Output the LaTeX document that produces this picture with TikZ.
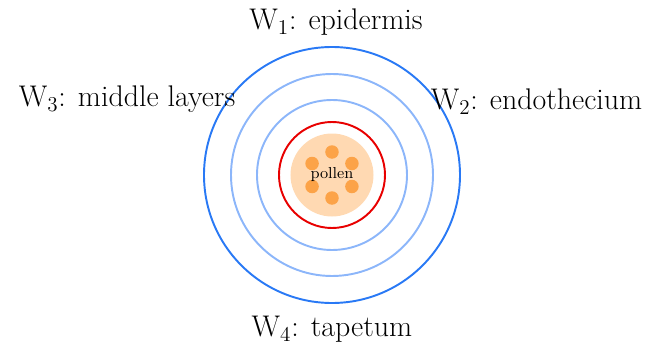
\documentclass[tikz,border=0pt]{standalone}
\usepackage{tikz}
\definecolor{WallBlue}{RGB}{41,121,245}
\definecolor{LayerBlue}{RGB}{140,182,250}
\definecolor{TapRed}{RGB}{232,0,0}
\definecolor{PollenFill}{RGB}{255,217,178}
\definecolor{GrainOrange}{RGB}{252,163,72}

\begin{document}
\begin{tikzpicture}[
	layer/.style={circle,draw,line width=1.1pt,inner sep=0pt},
	grain/.style={circle,fill=GrainOrange,minimum size=2.7mm,inner sep=0pt},
	lbl/.style={font=\fontsize{17}{20}\selectfont,anchor=base}]
\useasboundingbox (-6.64,-3.4) rectangle (6.38,3.5);
% wall layers, outside in
\node[layer,draw=WallBlue,minimum size=5.12cm] (W1) at (0,0) {};
\node[layer,draw=LayerBlue,minimum size=4.04cm] (W2) at (0,0) {};
\node[layer,draw=LayerBlue,minimum size=3cm] (W3) at (0,0) {};
\node[layer,draw=TapRed,minimum size=2.12cm] (W4) at (0,0) {};
% pollen sac
\node[circle,fill=PollenFill,minimum size=1.66cm,inner sep=0pt] (sac) at (0,0) {};
\foreach \a in {30,90,...,330}
	\node[grain] (g\a) at (\a:0.46) {};
\node[font=\small] (pollen) at (0,0) {pollen};
% labels
\node[lbl] (epi) at (0.08,2.9) {W$_1$: epidermis};
\node[lbl] (endo) at (4.09,1.3) {W$_2$: endothecium};
\node[lbl] (mid) at (-4.1,1.37) {W$_3$: middle layers};
\node[lbl] (tap) at (0,-3.23) {W$_4$: tapetum};
\end{tikzpicture}
\end{document}
